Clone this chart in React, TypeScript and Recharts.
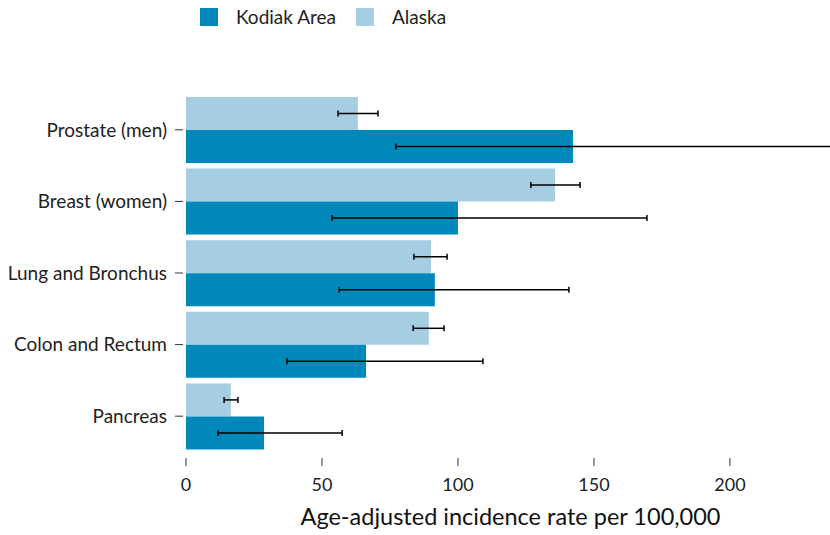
import { Bar, BarChart, ErrorBar, Legend, XAxis, YAxis } from "recharts";

const categories = ["Prostate (men)", "Breast (women)", "Lung and Bronchus", "Colon and Rectum", "Pancreas"];

const kodiak = [142.3, 100, 91.5, 66.2, 28.7];
const kodiakLow = [77.2, 53.7, 56.3, 37.1, 11.8];
const kodiakHigh = [262, 169.5, 140.8, 109.2, 57.4];

const alaska = [63.2, 135.7, 90.1, 89.3, 16.5];
const alaskaLow = [55.9, 126.8, 83.8, 83.5, 14];
const alaskaHigh = [70.6, 144.9, 96, 94.9, 19.1];

const xTicks = [0, 50, 100, 150, 200];

const KODIAK_COLOR = "#0088bb";
const ALASKA_COLOR = "#a6cee3";
const FONT = "Lato, 'Open Sans', sans-serif";

// error bars take [minus, plus] deltas
const data = categories.map((name, i) => ({
  name,
  kodiak: kodiak[i],
  kodiakErr: [kodiak[i] - kodiakLow[i], kodiakHigh[i] - kodiak[i]],
  alaska: alaska[i],
  alaskaErr: [alaska[i] - alaskaLow[i], alaskaHigh[i] - alaska[i]],
}));

function LegendBox() {
  const items = [
    { label: "Kodiak Area", color: KODIAK_COLOR, left: 200 },
    { label: "Alaska", color: ALASKA_COLOR, left: 356 },
  ];
  return (
    <div style={{ position: "relative", width: 830, height: 34, fontFamily: FONT }}>
      {items.map((it) => (
        <div key={it.label} style={{ position: "absolute", left: it.left, top: 8, display: "flex", alignItems: "center" }}>
          <span style={{ width: 18, height: 18, background: it.color, display: "inline-block" }} />
          <span style={{ marginLeft: 18, fontSize: 19, color: "#222", lineHeight: "18px" }}>{it.label}</span>
        </div>
      ))}
    </div>
  );
}

export default function App() {
  return (
    <div style={{ position: "absolute", left: 0, top: 0, background: "#fff" }}>
      <BarChart
        width={830}
        height={535}
        data={data}
        layout="vertical"
        margin={{ top: 60, right: 0, bottom: 0, left: 0 }}
        barCategoryGap={3}
        barGap={0}
      >
        <Legend
          verticalAlign="top"
          content={() => <LegendBox />}
          wrapperStyle={{ top: 0, left: 0, width: 830, height: 34 }}
        />
        <XAxis
          type="number"
          domain={[0, 236.8]}
          allowDataOverflow
          ticks={xTicks}
          axisLine={false}
          tickSize={8}
          tickMargin={12}
          tickLine={{ stroke: "#333" }}
          tick={{ fill: "#222", fontSize: 18, fontFamily: FONT }}
          padding={{ left: 3, right: 0 }}
          height={77}
          label={{
            value: "Age-adjusted incidence rate per 100,000",
            position: "insideBottom",
            offset: 10,
            dx: 4,
            fill: "#111",
            fontSize: 23.5,
            fontFamily: FONT,
          }}
        />
        <YAxis
          type="category"
          dataKey="name"
          width={183}
          axisLine={false}
          tickSize={8}
          tickMargin={8}
          tickLine={{ stroke: "#333" }}
          tick={{ fill: "#222", fontSize: 19, fontFamily: FONT }}
          padding={{ top: 0, bottom: 6 }}
        />
        <Bar dataKey="alaska" name="Alaska" fill={ALASKA_COLOR} isAnimationActive={false}>
          <ErrorBar dataKey="alaskaErr" direction="x" width={3} stroke="#000" strokeWidth={1.5} />
        </Bar>
        <Bar dataKey="kodiak" name="Kodiak Area" fill={KODIAK_COLOR} isAnimationActive={false}>
          <ErrorBar dataKey="kodiakErr" direction="x" width={3} stroke="#000" strokeWidth={1.5} />
        </Bar>
      </BarChart>
    </div>
  );
}
